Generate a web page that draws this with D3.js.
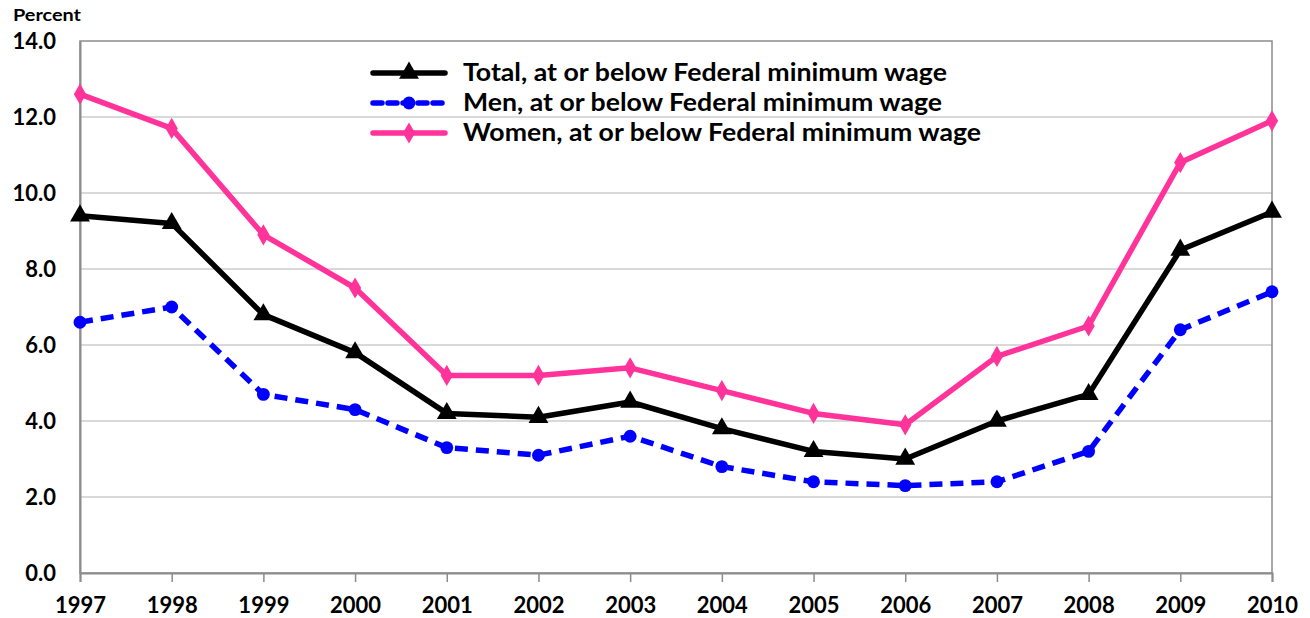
<!DOCTYPE html>
<html><head><meta charset="utf-8">
<script src="https://cdn.jsdelivr.net/npm/d3@7"></script>
<style>body{margin:0;background:#fff}svg{display:block}text{font-family:Lato,"Open Sans",sans-serif;font-weight:bold;fill:#000}</style>
</head><body>
<svg id="c" width="1310" height="618"></svg>
<script>
const years = [1997,1998,1999,2000,2001,2002,2003,2004,2005,2006,2007,2008,2009,2010];
const total = [9.4,9.2,6.8,5.8,4.2,4.1,4.5,3.8,3.2,3.0,4.0,4.7,8.5,9.5];
const men   = [6.6,7.0,4.7,4.3,3.3,3.1,3.6,2.8,2.4,2.3,2.4,3.2,6.4,7.4];
const women = [12.6,11.7,8.9,7.5,5.2,5.2,5.4,4.8,4.2,3.9,5.7,6.5,10.8,11.9];
const yTicks = [0,2,4,6,8,10,12,14];
const seriesNames = ["Total, at or below Federal minimum wage","Men, at or below Federal minimum wage","Women, at or below Federal minimum wage"];

const svg = d3.select("#c");
const L=80,R=1272,T=41,B=573;
const x = d3.scalePoint().domain(years).range([L,R]);
const y = d3.scaleLinear().domain([0,14]).range([B,T]);

svg.append("g").selectAll("line").data(yTicks.filter(d=>d>0&&d<14)).join("line")
  .attr("x1",L).attr("x2",R).attr("y1",d=>y(d)).attr("y2",d=>y(d))
  .attr("stroke","#d9d9d9").attr("stroke-width",2);
svg.append("rect").attr("x",L).attr("y",T).attr("width",R-L).attr("height",B-T)
  .attr("fill","none").attr("stroke","#8c8c8c").attr("stroke-width",1.5);

const ya = svg.append("g").attr("transform",`translate(${L},0)`)
  .call(d3.axisLeft(y).tickValues(yTicks).tickFormat(d3.format(".1f")).tickSize(0).tickPadding(24));
ya.select(".domain").attr("stroke","#8c8c8c").attr("stroke-width",2);
ya.selectAll("text").style("font-size","22px").style("font-family","Lato,sans-serif").style("font-weight","bold").attr("dy","0.36em");

const xa = svg.append("g").attr("transform",`translate(0,${B})`)
  .call(d3.axisBottom(x).tickSize(9).tickPadding(15));
xa.select(".domain").attr("stroke","#8c8c8c").attr("stroke-width",2);
xa.selectAll(".tick line").attr("stroke","#8c8c8c").attr("stroke-width",1.5);
xa.selectAll("text").style("font-size","22px").style("font-family","Lato,sans-serif").style("font-weight","bold");

svg.append("text").attr("x",13).attr("y",21).style("font-size","17px").attr("textLength",68).attr("lengthAdjust","spacingAndGlyphs").text("Percent");

const line = d3.line().x((d,i)=>x(years[i])).y(d=>y(d));
const series = [
  {name:seriesNames[0],vals:total,color:"#000000",dash:null,shape:d3.symbolTriangle,size:170,tl:484},
  {name:seriesNames[1],vals:men,color:"#0000ff",dash:"13,8",shape:d3.symbolCircle,size:130,tl:479},
  {name:seriesNames[2],vals:women,color:"#ff3399",dash:null,shape:d3.symbolDiamond,size:130,tl:518}
];
[series[2],series[1],series[0]].forEach(s=>{
  svg.append("path").datum(s.vals).attr("d",line).attr("fill","none")
    .attr("stroke",s.color).attr("stroke-width",5.5).attr("stroke-dasharray",s.dash)
    .attr("stroke-linejoin","round");
  svg.append("g").selectAll("path").data(s.vals).join("path")
    .attr("transform",(d,i)=>`translate(${x(years[i])},${y(d)})`)
    .attr("d",d3.symbol().type(s.shape).size(s.size)).attr("fill",s.color);
});

const lg = svg.append("g");
series.forEach((s,i)=>{
  const ly = 73 + i*30;
  lg.append("line").attr("x1",373).attr("x2",445).attr("y1",ly).attr("y2",ly)
    .attr("stroke",s.color).attr("stroke-width",5.5).attr("stroke-dasharray",s.dash?"9,6":null)
    .attr("stroke-linecap","round");
  lg.append("path").attr("transform",`translate(409,${ly})`).attr("d",d3.symbol().type(s.shape).size(s.size)).attr("fill",s.color);
  lg.append("text").attr("x",463).attr("y",ly).attr("dy","0.35em").style("font-size","24px")
    .attr("textLength",s.tl).attr("lengthAdjust","spacingAndGlyphs").text(s.name);
});
</script>
</body></html>
